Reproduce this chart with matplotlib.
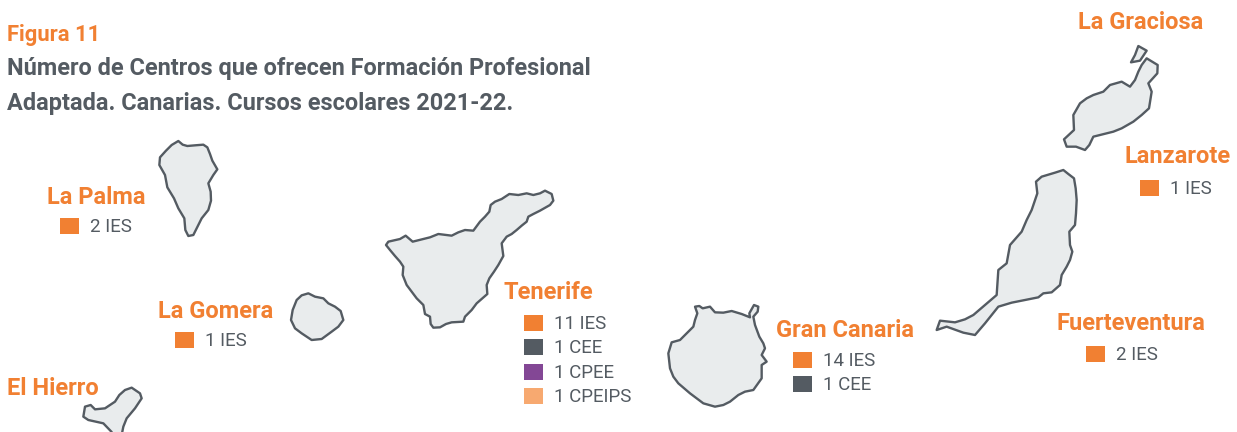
import matplotlib
matplotlib.use('Agg')
import matplotlib.pyplot as plt
from matplotlib.patches import Polygon, Rectangle

W, H = 1237, 432
ORANGE = '#F18032'
GREY = '#545B62'
PURPLE = '#834795'
LIGHT = '#F7A970'
LAND = '#E9ECED'

# texto de la figura
fig_label = 'Figura 11'
title_lines = ['Número de Centros que ofrecen Formación Profesional',
               'Adaptada. Canarias. Cursos escolares 2021-22.']
islands = ['La Graciosa', 'Lanzarote', 'Fuerteventura', 'Gran Canaria', 'Tenerife', 'La Gomera', 'La Palma', 'El Hierro']
island_xy = [(1078, 29), (1124, 163), (1056, 330), (776, 337), (503, 299), (158, 318), (47, 204), (7, 395)]

# centros por isla
lanzarote = ['1 IES']
fuerteventura = ['2 IES']
gran_canaria = ['14 IES', '1 CEE']
tenerife = ['11 IES', '1 CEE', '1 CPEE', '1 CPEIPS']
la_gomera = ['1 IES']
la_palma = ['2 IES']
center_lists = [lanzarote, fuerteventura, gran_canaria, tenerife, la_gomera, la_palma]
center_xy = [(1140, 180), (1086, 346), (793, 352), (524, 315), (175, 332), (60, 218)]
kind_colors = {'IES': ORANGE, 'CEE': GREY, 'CPEE': PURPLE, 'CPEIPS': LIGHT}

la_palma_shape = [(535,33),(548,44),(562,48),(585,46),(610,44),(622,52),(630,72),(637,92),(652,118),(640,135),(625,160),(632,185),(633,212),(625,240),(605,265),(590,295),(580,315),(565,318),(556,300),(553,265),(535,235),(522,205),(502,172),(495,135),(478,105),(480,82),(498,62),(515,45)]
la_gomera_shape = [(925,490),(945,500),(970,505),(985,520),(1005,530),(1022,543),(1030,570),(1015,590),(995,605),(965,627),(935,630),(905,610),(885,595),(873,570),(878,540),(890,510),(905,496)]
el_hierro_shape = [(395,773),(420,790),(425,805),(405,835),(380,865),(370,890),(362,930),(335,930),(335,906),(310,880),(265,870),(250,860),(255,830),(272,825),(285,838),(315,835),(345,815),(358,795),(375,780)]
tenerife_shape = [(48,225),(60,240),(75,258),(90,275),(100,290),(98,315),(110,345),(125,365),(140,385),(160,405),(165,432),(180,440),(182,462),(190,473),(210,472),(228,462),(245,457),(280,455),(285,440),(305,420),(320,400),(352,372),(350,345),(358,325),(372,305),(385,285),(400,258),(395,220),(410,200),(425,192),(440,180),(455,167),(470,155),(475,140),(490,132),(510,122),(540,105),(550,92),(545,72),(525,62),(510,70),(490,75),(470,70),(445,75),(418,72),(395,87),(375,95),(362,105),(358,125),(345,140),(330,155),(310,182),(285,180),(265,187),(245,197),(205,192),(180,202),(160,207),(128,215),(107,197),(90,207),(55,215)]
gran_canaria_shape = [(105,50),(118,48),(128,55),(150,50),(165,67),(190,68),(215,63),(245,72),(270,82),(268,70),(282,45),(295,50),(293,65),(280,80),(285,105),(298,140),(310,160),(315,175),(305,195),(320,215),(305,225),(305,265),(280,300),(255,305),(235,315),(210,335),(190,345),(165,350),(130,340),(110,325),(90,310),(55,280),(40,260),(30,235),(25,190),(35,157),(60,150),(85,125),(100,110),(105,90),(112,70)]
fuerteventura_shape = [(400,30),(415,42),(432,55),(437,85),(440,120),(438,160),(435,195),(418,215),(420,255),(427,275),(420,300),(410,320),(395,345),(390,375),(365,397),(340,400),(325,412),(285,420),(245,428),(205,440),(185,465),(165,490),(135,525),(100,518),(50,500),(20,510),(30,482),(75,487),(105,478),(130,465),(165,435),(200,405),(205,330),(230,310),(240,255),(275,215),(290,180),(305,150),(322,100),(318,65),(335,50),(375,38)]
lanzarote_shape = [(290,85),(323,105),(322,130),(295,160),(305,185),(297,235),(275,255),(250,275),(215,295),(190,305),(130,320),(118,345),(105,360),(78,350),(50,350),(42,328),(72,300),(70,255),(90,220),(110,205),(130,195),(160,185),(180,165),(215,155),(240,170),(255,150),(265,125),(275,105)]
graciosa_shape = [(265,48),(290,62),(270,92),(243,97),(255,75)]
shapes = [(la_palma_shape, 0, 130), (la_gomera_shape, 0, 130), (el_hierro_shape, 0, 130),
          (tenerife_shape, 370, 170), (gran_canaria_shape, 660, 290), (fuerteventura_shape, 930, 160),
          (lanzarote_shape, 1050, 30), (graciosa_shape, 1050, 30)]

plt.rcParams['font.family'] = ['Roboto', 'DejaVu Sans']
fig = plt.figure(figsize=(W / 100, H / 100), dpi=100)
ax = fig.add_axes([0, 0, 1, 1])
ax.set_xlim(0, W); ax.set_ylim(H, 0); ax.axis('off')

for pts, x0, y0 in shapes:
    xy = [(x0 + px / 3, y0 + py / 3) for px, py in pts]
    ax.add_patch(Polygon(xy, closed=True, fc=LAND, ec=GREY, lw=1.7, joinstyle='round'))

ax.text(7, 41, fig_label, color=ORANGE, fontsize=15.8, fontweight='bold', va='baseline')
ax.text(7, 75, title_lines[0], color=GREY, fontsize=16.9, fontweight='bold', va='baseline')
ax.text(7, 110, title_lines[1], color=GREY, fontsize=16.9, fontweight='bold', va='baseline')

for name, (x, y) in zip(islands, island_xy):
    ax.text(x, y, name, color=ORANGE, fontsize=17, fontweight='bold', va='baseline')

for items, (x, y) in zip(center_lists, center_xy):
    for i, item in enumerate(items):
        top = y + i * 24.5 - (0.5 if i else 0)
        ax.add_patch(Rectangle((x, top), 19, 16, fc=kind_colors[item.split()[1]], ec='none'))
        ax.text(x + 30, top + 14, item, color=GREY, fontsize=13.5, va='baseline')

fig.savefig('out.png', dpi=100)
